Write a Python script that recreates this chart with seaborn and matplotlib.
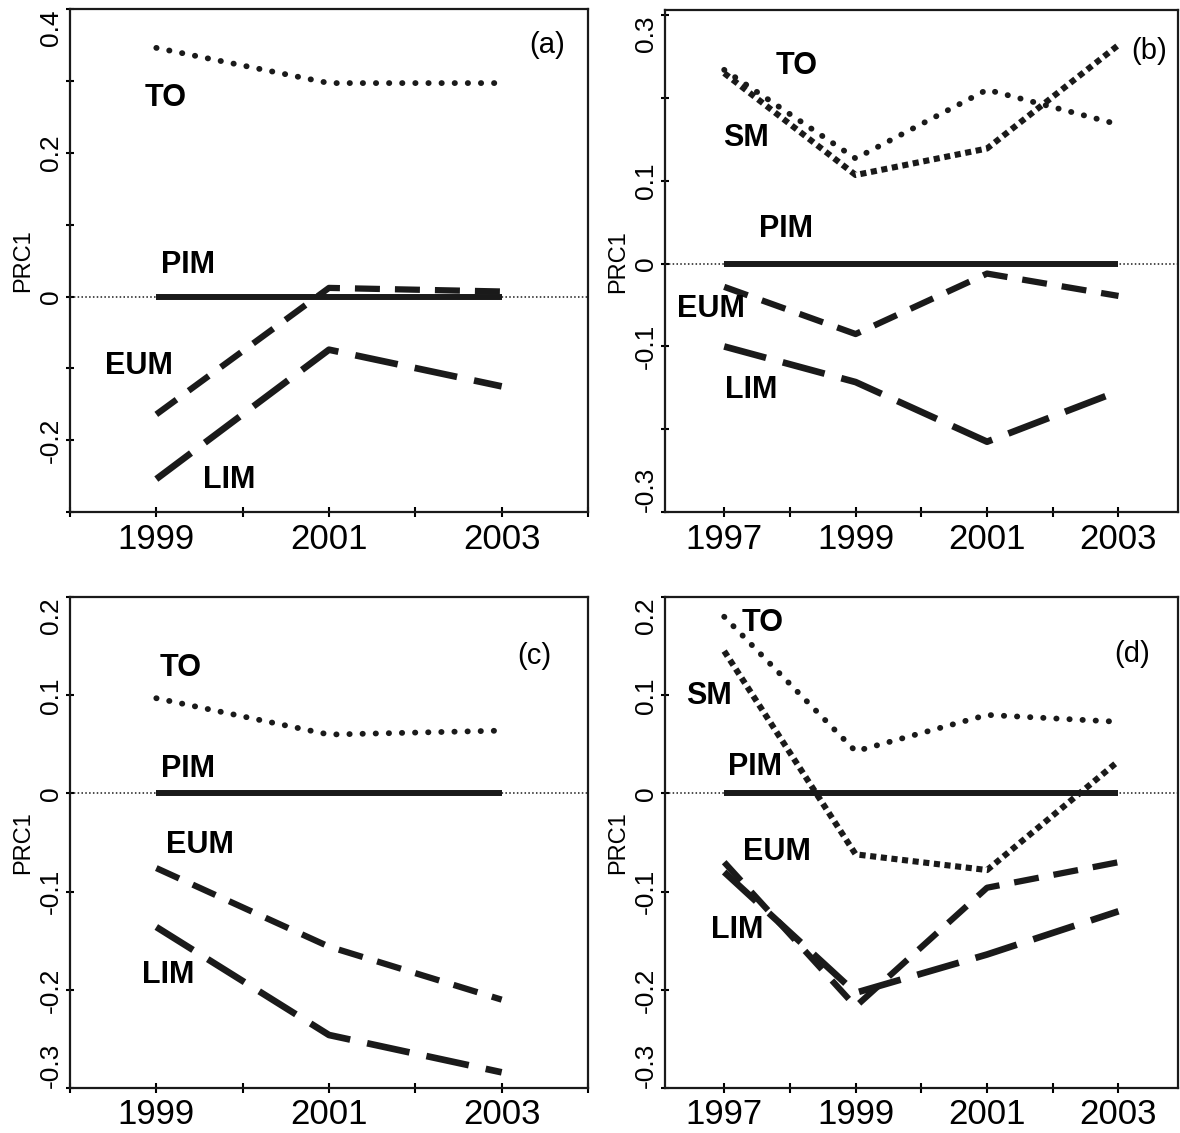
import matplotlib
matplotlib.use("Agg")
import matplotlib.pyplot as plt
import numpy as np
import pandas as pd
import seaborn as sns

# ---- data ----
years_a = [1999, 2001, 2003]
to_a = [0.346, 0.297, 0.297]
pim_a = [0.0, 0.0, 0.0]
eum_a = [-0.164, 0.012, 0.007]
lim_a = [-0.254, -0.074, -0.125]

years_b = [1997, 1999, 2001, 2003]
to_b = [0.234, 0.127, 0.210, 0.168]
sm_b = [0.230, 0.107, 0.139, 0.264]
pim_b = [0.0, 0.0, 0.0, 0.0]
eum_b = [-0.028, -0.085, -0.012, -0.039]
lim_b = [-0.100, -0.143, -0.215, -0.154]

years_c = [1999, 2001, 2003]
to_c = [0.097, 0.060, 0.064]
pim_c = [0.0, 0.0, 0.0]
eum_c = [-0.076, -0.156, -0.210]
lim_c = [-0.136, -0.246, -0.284]

years_d = [1997, 1999, 2001, 2003]
to_d = [0.180, 0.043, 0.080, 0.073]
sm_d = [0.145, -0.062, -0.078, 0.033]
pim_d = [0.0, 0.0, 0.0, 0.0]
eum_d = [-0.070, -0.217, -0.096, -0.070]
lim_d = [-0.080, -0.203, -0.164, -0.120]

xlabels_a = ["1999", "2001", "2003"]
xlabels_b = ["1997", "1999", "2001", "2003"]

sns.set_theme(style="white")
plt.rcParams["font.family"] = ["Liberation Sans", "DejaVu Sans"]
plt.rcParams.update({"text.color": "black", "axes.labelcolor": "black",
                     "xtick.color": "black", "ytick.color": "black",
                     "axes.edgecolor": "black"})

# line styles (dash lengths in units of linewidth)
styles = {
    "TO": dict(lw=4.2, ls=(0, (0.05, 2.2)), cap="round"),
    "SM": dict(lw=4.4, ls=(0, (1.0, 0.75)), cap="butt"),
    "PIM": dict(lw=4.3, ls="-", cap="butt"),
    "EUM": dict(lw=4.5, ls=(0, (4.0, 2.4)), cap="butt"),
    "LIM": dict(lw=4.8, ls=(0, (6.5, 2.6)), cap="butt"),
}

panels = [
    dict(pos=[0.0593, 0.548, 0.439, 0.444], years=years_a,
         series={"TO": to_a, "PIM": pim_a, "EUM": eum_a, "LIM": lim_a},
         xlim=(1998, 2004), xticks=list(range(1998, 2005)), xlab=xlabels_a,
         ylim=(-0.3, 0.4), yticks=[0.4, 0.3, 0.2, 0.1, 0.0, -0.1, -0.2, -0.3],
         ylab=["0.4", "", "0.2", "", "0", "", "-0.2", ""],
         tag="(a)", tagpos=(2003.53, 0.35),
         names={"TO": (1999.11, 0.276), "PIM": (1999.37, 0.044),
                "EUM": (1998.8, -0.097), "LIM": (1999.84, -0.256)}),
    dict(pos=[0.5636, 0.548, 0.4344, 0.443], years=years_b,
         series={"TO": to_b, "SM": sm_b, "PIM": pim_b, "EUM": eum_b, "LIM": lim_b},
         xlim=(1996.1, 2003.9), xticks=list(range(1997, 2004)), xlab=xlabels_b,
         ylim=(-0.3, 0.306), yticks=[0.3, 0.2, 0.1, 0.0, -0.1, -0.2, -0.3],
         ylab=["0.3", "", "0.1", "0", "-0.1", "", "-0.3"],
         tag="(b)", tagpos=(2003.47, 0.257),
         names={"TO": (1998.1, 0.239), "SM": (1997.33, 0.152), "PIM": (1997.94, 0.042),
                "EUM": (1996.8, -0.055), "LIM": (1997.41, -0.152)}),
    dict(pos=[0.0593, 0.0397, 0.439, 0.4333], years=years_c,
         series={"TO": to_c, "PIM": pim_c, "EUM": eum_c, "LIM": lim_c},
         xlim=(1998, 2004), xticks=list(range(1998, 2005)), xlab=xlabels_a,
         ylim=(-0.3, 0.2), yticks=[0.2, 0.1, 0.0, -0.1, -0.2, -0.3],
         ylab=["0.2", "0.1", "0", "-0.1", "-0.2", "-0.3"],
         tag="(c)", tagpos=(2003.38, 0.14),
         names={"TO": (1999.28, 0.128), "PIM": (1999.37, 0.0245),
                "EUM": (1999.51, -0.052), "LIM": (1999.14, -0.185)}),
    dict(pos=[0.5636, 0.0397, 0.4344, 0.4333], years=years_d,
         series={"TO": to_d, "SM": sm_d, "PIM": pim_d, "EUM": eum_d, "LIM": lim_d},
         xlim=(1996.1, 2003.9), xticks=list(range(1997, 2004)), xlab=xlabels_b,
         ylim=(-0.3, 0.2), yticks=[0.2, 0.1, 0.0, -0.1, -0.2, -0.3],
         ylab=["0.2", "0.1", "0", "-0.1", "-0.2", "-0.3"],
         tag="(d)", tagpos=(2003.2, 0.142),
         names={"TO": (1997.58, 0.174), "SM": (1996.77, 0.099), "PIM": (1997.47, 0.0265),
                "EUM": (1997.81, -0.06), "LIM": (1997.2, -0.139)}),
]

fig = plt.figure(figsize=(11.8, 11.33), dpi=100)

for p in panels:
    ax = fig.add_axes(p["pos"])
    ax.axhline(0, color="k", lw=1.1, ls=(0, (1, 1.5)), zorder=1)
    for name, vals in p["series"].items():
        st = styles[name]
        df = pd.DataFrame({"year": p["years"], "PRC1": vals})
        n_before = len(ax.lines)
        sns.lineplot(data=df, x="year", y="PRC1", ax=ax, color="k",
                     lw=st["lw"], linestyle=st["ls"], zorder=3)
        for ln in ax.lines[n_before:]:
            ln.set_dash_capstyle(st["cap"])
            ln.set_solid_capstyle("butt")
    for name, (tx, ty) in p["names"].items():
        ax.text(tx, ty, name, fontsize=22, fontweight="bold", ha="center", va="center",
                color="black")
    ax.text(p["tagpos"][0], p["tagpos"][1], p["tag"], fontsize=21, ha="center",
            va="center", color="black")

    ax.set_xlim(p["xlim"])
    ax.set_ylim(p["ylim"])
    xt_labels = [str(y) if str(y) in p["xlab"] else "" for y in p["xticks"]]
    ax.set_xticks(p["xticks"], xt_labels)
    ax.set_yticks(p["yticks"], p["ylab"])
    ax.tick_params(axis="x", direction="inout", length=7, width=1.5, labelsize=25, pad=4,
                   bottom=True, colors="black")
    ax.tick_params(axis="y", direction="inout", length=6, width=1.5, labelsize=19, pad=2,
                   left=True, colors="black")
    labels = ax.get_yticklabels()
    for i, lab in enumerate(labels):
        lab.set_rotation(90)
        lab.set_va("center")
    labels[0].set_va("top")
    labels[-1].set_va("bottom")
    ax.set_xlabel("")
    ax.set_ylabel("PRC1", fontsize=17, color="black")
    ax.yaxis.set_label_coords(-0.07, 0.5)
    for sp in ax.spines.values():
        sp.set_visible(True)
        sp.set_color("k")
        sp.set_linewidth(1.6)
    ax.grid(False)

fig.savefig("out.png", dpi=100)
